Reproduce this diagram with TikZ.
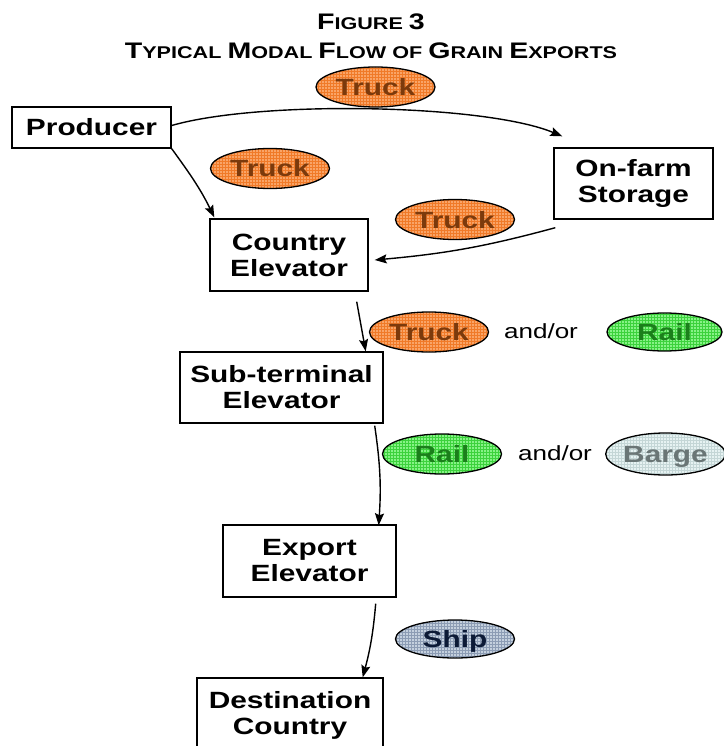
\documentclass[tikz,border=0pt]{standalone}
\usepackage{fontspec}
\setmainfont{Liberation Sans}[FakeStretch=1.27]
\usepackage{tikz}
\usetikzlibrary{shapes.geometric,arrows.meta,patterns}

\definecolor{truckfill}{HTML}{F9A467}
\definecolor{truckgrid}{HTML}{F07A28}
\definecolor{trucktext}{HTML}{7C3A0C}
\definecolor{railfill}{HTML}{86F286}
\definecolor{railgrid}{HTML}{3CD23C}
\definecolor{railtext}{HTML}{1B7F1B}
\definecolor{bargefill}{HTML}{E6F2F2}
\definecolor{bargegrid}{HTML}{C4D6D6}
\definecolor{bargetext}{HTML}{6A7676}
\definecolor{shipfill}{HTML}{C4D0DE}
\definecolor{shipgrid}{HTML}{8C9CB4}
\definecolor{shiptext}{HTML}{0C1A36}

\newcommand{\smcap}[2]{{\fontsize{22.5}{26}\selectfont #1}{\fontsize{17}{20}\selectfont #2}}

\begin{document}
\begin{tikzpicture}[x=1pt,y=1pt]
	\tikzstyle{every node}+=[inner sep=0pt]
	\tikzstyle{stage}=[draw, line width=1.4pt, rectangle, align=center, font=\bfseries\fontsize{23.5}{26}\selectfont]
	\tikzstyle{mode}=[draw, line width=1.3pt, ellipse, minimum width=119pt, minimum height=40pt, text height=17pt, text depth=0pt, font=\bfseries\fontsize{23.5}{26}\selectfont]
	\tikzstyle{truck}=[mode, preaction={fill=truckfill}, pattern=grid, pattern color=truckgrid, text=trucktext]
	\tikzstyle{rail}=[mode, preaction={fill=railfill}, pattern=grid, pattern color=railgrid, text=railtext]
	\tikzstyle{barge}=[mode, preaction={fill=bargefill}, pattern=grid, pattern color=bargegrid, text=bargetext]
	\tikzstyle{ship}=[mode, preaction={fill=shipfill}, pattern=grid, pattern color=shipgrid, text=shiptext]
	\tikzstyle{andor}=[anchor=base, font=\fontsize{20.5}{24}\selectfont]
	\tikzstyle{flow}=[line width=1.4pt, -{Stealth[length=12pt,width=9pt,inset=2pt]}]
	\useasboundingbox (0,0) rectangle (723,-746);
	% title
	\node[anchor=base] (fig) at (371,-30) {\bfseries\smcap{F}{IGURE }\smcap{3}{}};
	\node[anchor=base] (title) at (371,-59) {\bfseries\smcap{T}{YPICAL }\smcap{M}{ODAL }\smcap{F}{LOW OF }\smcap{G}{RAIN }\smcap{E}{XPORTS}};
	% stages
	\node[stage, minimum width=159pt, minimum height=41pt] (prod) at (91.5,-127.5) {Producer};
	\node[stage, minimum width=159pt, minimum height=71pt] (store) at (633.5,-183.5) {On-farm\\Storage};
	\node[stage, minimum width=158pt, minimum height=72pt] (ctry) at (289,-255) {Country\\Elevator};
	\node[stage, minimum width=203pt, minimum height=71pt] (sub) at (281.5,-387.5) {Sub-terminal\\Elevator};
	\node[stage, minimum width=173pt, minimum height=72pt] (exp) at (309.5,-561) {Export\\Elevator};
	\node[stage, minimum width=186pt, minimum height=74pt] (dest) at (290,-715) {Destination\\Country};
	% modes
	\node[truck] (t1) at (375.5,-87) {Truck};
	\node[truck] (t2) at (270,-168.5) {Truck};
	\node[truck] (t3) at (455,-219.5) {Truck};
	\node[truck] (t4) at (429,-332) {Truck};
	\node[rail, minimum width=115pt, minimum height=38pt] (r1) at (664.5,-332) {Rail};
	\node[rail] (r2) at (442,-454) {Rail};
	\node[barge, minimum width=115pt, minimum height=42pt] (b1) at (665.5,-454) {Barge};
	\node[ship, minimum height=38pt] (s1) at (455,-639) {Ship};
	\node[andor] (ao1) at (541,-338) {and/or};
	\node[andor] (ao2) at (555,-460) {and/or};
	% flows
	\draw[flow] ([yshift=2pt]prod.east) .. controls (260,-100) and (485,-104) .. ([xshift=9pt,yshift=11pt]store.north west);
	\draw[flow] (prod.south east) to[out=-54,in=116] ([xshift=5pt,yshift=1pt]ctry.north west);
	\draw[flow] ([xshift=2pt,yshift=-8pt]store.south west) to[bend left=5] ([xshift=6pt,yshift=-5pt]ctry.east);
	\draw[flow] ([xshift=-12pt,yshift=-10pt]ctry.south east) -- ([xshift=-18pt]sub.north east);
	\draw[flow] ([xshift=-9pt,yshift=-2pt]sub.south east) to[bend left=6] ([xshift=-18pt,yshift=-1pt]exp.north east);
	\draw[flow] ([xshift=-21pt,yshift=-6pt]exp.south east) to[bend left=5] ([xshift=-21pt]dest.north east);
\end{tikzpicture}
\end{document}
